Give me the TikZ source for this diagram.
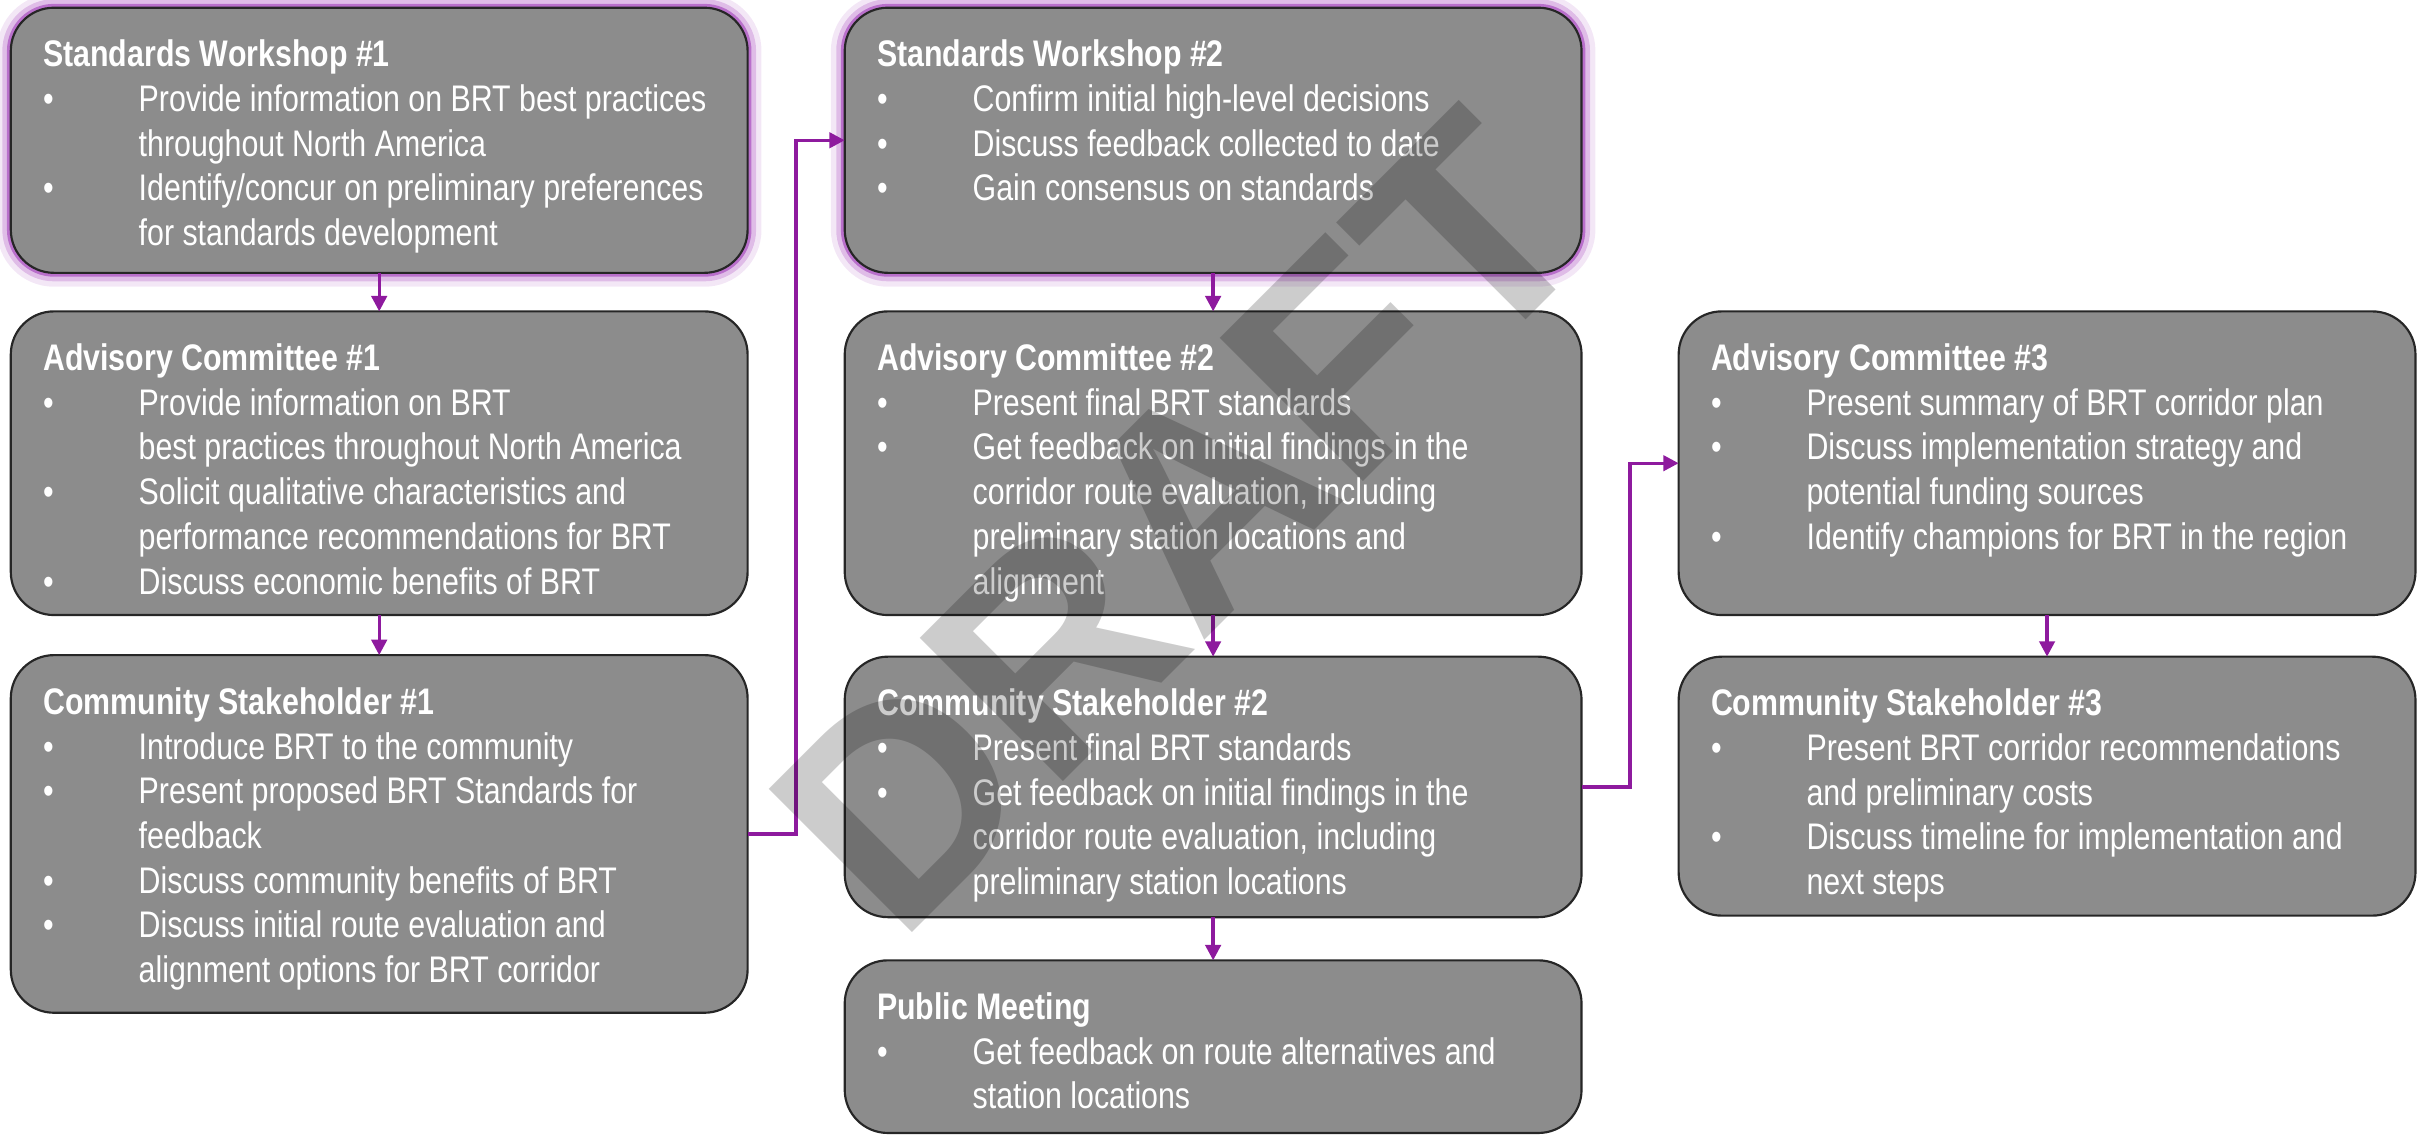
\documentclass[tikz,border=0pt]{standalone}
\usepackage{fontspec}
\setmainfont{Liberation Sans}[FakeStretch=0.82]
\newfontfamily\draftfont{Liberation Sans}
\usetikzlibrary{arrows.meta,positioning,calc}

\definecolor{boxgray}{RGB}{140,140,140}
\definecolor{boxline}{RGB}{38,38,38}
\definecolor{linkpurple}{RGB}{142,26,158}
\definecolor{glowpurple}{RGB}{160,60,185}

% bullet line / continuation line inside a stage box
\newcommand{\bitem}[1]{\\\mbox{\makebox[62pt][l]{\textbullet}#1}}
\newcommand{\bcont}[1]{\\\mbox{\hspace*{62pt}#1}}
\newcommand{\stagetext}[3]{\parbox[t][\dimexpr#1pt-42pt\relax][t]{436pt}{\textbf{#2}#3}}

\begin{document}
\begin{tikzpicture}[x=1pt,y=1pt,
  node distance=25pt and 63pt,
  stage/.style={draw=boxline,fill=boxgray,line width=1.4pt,rounded corners=28pt,outer sep=0pt,
                text=white,inner sep=21pt,font=\fontsize{24}{29}\selectfont},
  glow/.style={preaction={draw=glowpurple,line width=18pt,opacity=0.12},
               preaction={draw=glowpurple,line width=11pt,opacity=0.25},
               preaction={draw=glowpurple,line width=5pt,opacity=0.6}},
  arr/.style={-{Triangle[length=10pt,width=10pt]},line width=2.2pt,draw=linkpurple}
]
\useasboundingbox (0,0) rectangle (1568,-736);

% column 1
\node[stage,glow,anchor=north west] (sw1) at (7,-5)
  {\stagetext{172}{Standards Workshop \#1}{%
    \bitem{Provide information on BRT best practices}
    \bcont{throughout North America}
    \bitem{Identify/concur on preliminary preferences}
    \bcont{for standards development}}};
\node[stage,below=of sw1] (ac1)
  {\stagetext{197}{Advisory Committee \#1}{%
    \bitem{Provide information on BRT}
    \bcont{best practices throughout North America}
    \bitem{Solicit qualitative characteristics and}
    \bcont{performance recommendations for BRT}
    \bitem{Discuss economic benefits of BRT}}};
\node[stage,below=26pt of ac1] (cs1)
  {\stagetext{232}{Community Stakeholder \#1}{%
    \bitem{Introduce BRT to the community}
    \bitem{Present proposed BRT Standards for}
    \bcont{feedback}
    \bitem{Discuss community benefits of BRT}
    \bitem{Discuss initial route evaluation and}
    \bcont{alignment options for BRT corridor}}};

% column 2
\node[stage,glow,right=of sw1] (sw2)
  {\stagetext{172}{Standards Workshop \#2}{%
    \bitem{Confirm initial high-level decisions}
    \bitem{Discuss feedback collected to date}
    \bitem{Gain consensus on standards}}};
\node[stage,below=of sw2] (ac2)
  {\stagetext{197}{Advisory Committee \#2}{%
    \bitem{Present final BRT standards}
    \bitem{Get feedback on initial findings in the}
    \bcont{corridor route evaluation, including}
    \bcont{preliminary station locations and}
    \bcont{alignment}}};
\node[stage,below=27pt of ac2] (cs2)
  {\stagetext{169}{Community Stakeholder \#2}{%
    \bitem{Present final BRT standards}
    \bitem{Get feedback on initial findings in the}
    \bcont{corridor route evaluation, including}
    \bcont{preliminary station locations}}};
\node[stage,below=28pt of cs2] (pm)
  {\stagetext{112}{Public Meeting}{%
    \bitem{Get feedback on route alternatives and}
    \bcont{station locations}}};

% column 3
\node[stage,right=of ac2] (ac3)
  {\stagetext{197}{Advisory Committee \#3}{%
    \bitem{Present summary of BRT corridor plan}
    \bitem{Discuss implementation strategy and}
    \bcont{potential funding sources}
    \bitem{Identify champions for BRT in the region}}};
\node[stage,below=27pt of ac3] (cs3)
  {\stagetext{168}{Community Stakeholder \#3}{%
    \bitem{Present BRT corridor recommendations}
    \bcont{and preliminary costs}
    \bitem{Discuss timeline for implementation and}
    \bcont{next steps}}};

\draw[arr] (sw1)--(ac1);
\draw[arr] (ac1)--(cs1);
\draw[arr] (sw2)--(ac2);
\draw[arr] (ac2)--(cs2);
\draw[arr] (cs2)--(pm);
\draw[arr] (ac3)--(cs3);
\draw[arr] (cs1.east) -- ++(31.5,0) |- (sw2.west);
\draw[arr] (cs2.east) -- ++(31.5,0) |- (ac3.west);

% watermark
\node[font=\draftfont\bfseries\fontsize{191}{191}\selectfont,text=black,text opacity=0.2,
      rotate=45,anchor=base west,inner sep=0pt] (draft) at (583,-614) {DRAFT};
\end{tikzpicture}
\end{document}
